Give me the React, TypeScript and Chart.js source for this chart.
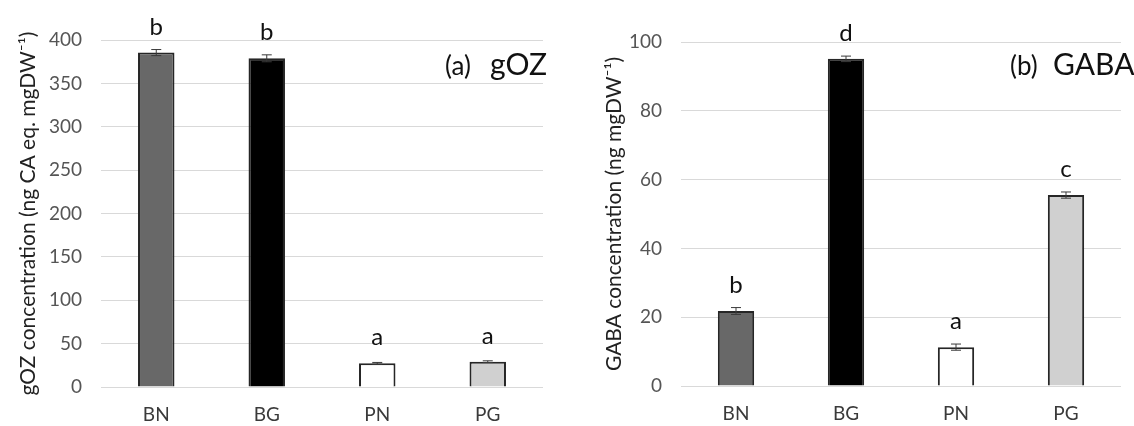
import React, { useEffect, useRef } from 'react';
import { Chart, registerables } from 'chart.js';

Chart.register(...registerables);

const categories = ['BN', 'BG', 'PN', 'PG'];
const barColors = ['#686868', '#000000', '#ffffff', '#d0d0d0'];

const gozValues = [385.5, 378.9, 27.3, 29.2];
const gozErrors = [3.5, 4.0, 1.0, 1.0];
const gozLetters = ['b', 'b', 'a', 'a'];

const gabaValues = [21.8, 95.1, 11.3, 55.5];
const gabaErrors = [1.0, 0.8, 0.9, 0.9];
const gabaLetters = ['b', 'd', 'a', 'c'];

const FONT = 'Lato, "Open Sans", sans-serif';

const annotatePlugin = {
  id: 'annotate',
  afterDatasetsDraw(chart: any, _args: any, opts: any) {
    const { ctx } = chart;
    const x = chart.scales.x;
    const y = chart.scales.y;
    const data = chart.data.datasets[0].data as number[];
    ctx.save();
    ctx.strokeStyle = '#3a3a3a';
    ctx.lineWidth = 1;
    data.forEach((v, i) => {
      const e = opts.errors[i];
      const cx = x.getPixelForValue(i);
      const t = y.getPixelForValue(v + e);
      const b = y.getPixelForValue(v - e);
      ctx.beginPath();
      ctx.moveTo(cx, t);
      ctx.lineTo(cx, b);
      ctx.moveTo(cx - 5, t);
      ctx.lineTo(cx + 5, t);
      ctx.moveTo(cx - 5, b);
      ctx.lineTo(cx + 5, b);
      ctx.stroke();
      ctx.fillStyle = '#111111';
      ctx.font = `24px ${FONT}`;
      ctx.textAlign = 'center';
      ctx.textBaseline = 'alphabetic';
      ctx.fillText(opts.letters[i], cx, y.getPixelForValue(v) - 18);
    });
    ctx.textAlign = 'left';
    ctx.fillStyle = '#111111';
    ctx.font = `26px ${FONT}`;
    ctx.fillText(opts.tag, opts.tagX, opts.titleY);
    ctx.font = `30px ${FONT}`;
    ctx.fillText(opts.name, opts.nameX, opts.titleY);
    ctx.restore();
  },
};

function makeConfig(p: {
  values: number[];
  errors: number[];
  letters: string[];
  max: number;
  step: number;
  yTitle: string;
  yWidth: number;
  padRight: number;
  padTop: number;
  xHeight: number;
  titlePad: number;
  tag: string;
  name: string;
  tagX: number;
  nameX: number;
}): any {
  return {
    type: 'bar',
    data: {
      labels: categories,
      datasets: [
        {
          data: p.values,
          backgroundColor: barColors,
          borderColor: '#262626',
          borderWidth: 2,
          barPercentage: 0.33,
          categoryPercentage: 1,
        },
      ],
    },
    plugins: [annotatePlugin],
    options: {
      responsive: false,
      maintainAspectRatio: false,
      animation: false,
      layout: { padding: { top: p.padTop, right: p.padRight, left: 0, bottom: 0 } },
      plugins: {
        legend: { display: false },
        tooltip: { enabled: false },
        annotate: {
          errors: p.errors,
          letters: p.letters,
          tag: p.tag,
          name: p.name,
          tagX: p.tagX,
          nameX: p.nameX,
          titleY: 75,
        },
      },
      scales: {
        x: {
          grid: { display: false, drawTicks: false },
          border: { display: false },
          ticks: { color: '#3a3a3a', font: { family: FONT, size: 19 }, padding: 16 },
          afterFit: (s: any) => {
            s.height = p.xHeight;
          },
        },
        y: {
          min: 0,
          max: p.max,
          ticks: {
            stepSize: p.step,
            color: '#555555',
            font: { family: FONT, size: 19 },
            padding: 19,
          },
          grid: { color: '#d9d9d9', lineWidth: 1, drawTicks: false },
          border: { display: false },
          title: {
            display: true,
            text: p.yTitle,
            color: '#222222',
            font: { family: FONT, size: 21 },
            padding: { top: p.titlePad, bottom: 0 },
          },
          afterFit: (s: any) => {
            s.width = p.yWidth;
          },
        },
      },
    },
  };
}

function Panel(props: { config: any; left: number }) {
  const ref = useRef<HTMLCanvasElement>(null);
  useEffect(() => {
    if (!ref.current) return;
    const chart = new Chart(ref.current, props.config);
    return () => chart.destroy();
  }, []);
  return (
    <canvas
      ref={ref}
      width={567}
      height={426}
      style={{ position: 'absolute', left: props.left, top: 0, width: 567, height: 426 }}
    />
  );
}

export default function App() {
  const left = makeConfig({
    values: gozValues,
    errors: gozErrors,
    letters: gozLetters,
    max: 400,
    step: 50,
    yTitle: 'gOZ concentration (ng CA eq. mgDW⁻¹)',
    yWidth: 101,
    padRight: 24,
    padTop: 40,
    xHeight: 39,
    titlePad: 16,
    tag: '(a)',
    name: 'gOZ',
    tagX: 445,
    nameX: 490,
  });
  const right = makeConfig({
    values: gabaValues,
    errors: gabaErrors,
    letters: gabaLetters,
    max: 100,
    step: 20,
    yTitle: 'GABA concentration (ng mgDW⁻¹)',
    yWidth: 114,
    padRight: 13,
    padTop: 42,
    xHeight: 40,
    titlePad: 35,
    tag: '(b)',
    name: 'GABA',
    tagX: 443,
    nameX: 486,
  });
  return (
    <div style={{ position: 'fixed', left: 0, top: 0, width: 1134, height: 426, background: '#fff' }}>
      <Panel config={left} left={0} />
      <Panel config={right} left={567} />
    </div>
  );
}
